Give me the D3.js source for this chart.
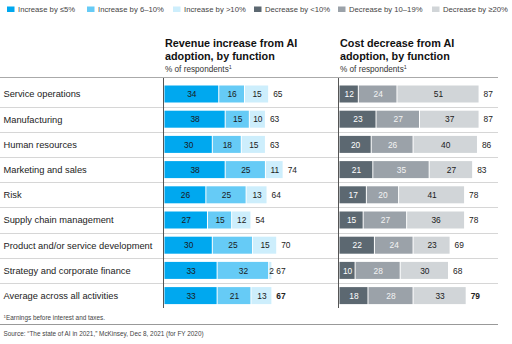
<!DOCTYPE html>
<html>
<head>
<meta charset="utf-8">
<script src="https://cdn.jsdelivr.net/npm/d3@7"></script>
<style>
  body { margin: 0; background: #fff; }
  svg { font-family: "Liberation Sans", Arial, sans-serif; }
</style>
</head>
<body>
<svg id="chart" width="512" height="344"></svg>
<script>
// row names, top to bottom
var functions = [
    "Service operations",
    "Manufacturing",
    "Human resources",
    "Marketing and sales",
    "Risk",
    "Supply chain management",
    "Product and/or service development",
    "Strategy and corporate finance",
    "Average across all activities"
];

// revenue increase, % of respondents
var incLow = [34, 38, 30, 38, 26, 27, 30, 33, 33];
var incMid = [16, 15, 18, 25, 25, 15, 25, 32, 21];
var incHigh = [15, 10, 15, 11, 13, 12, 15, 2, 13];
var incTotal = [65, 63, 63, 74, 64, 54, 70, 67, 67];

// cost decrease, % of respondents
var decLow = [12, 23, 20, 21, 17, 15, 22, 10, 18];
var decMid = [24, 27, 26, 35, 20, 27, 24, 28, 28];
var decHigh = [51, 37, 40, 27, 41, 36, 23, 30, 33];
var decTotal = [87, 87, 86, 83, 78, 78, 69, 68, 79];

var legendLabels = [
    "Increase by \u22645%", "Increase by 6\u201310%", "Increase by >10%",
    "Decrease by <10%", "Decrease by 10\u201319%", "Decrease by \u226520%"
];
var colors = ["#00a8ef", "#66cbf6", "#cdeefc", "#5c6871", "#9ba2a9", "#d1d5d8"];
var textColors = ["#1a1a1a", "#1a1a1a", "#1a1a1a", "#ffffff", "#f4f4f4", "#1a1a1a"];

var svg = d3.select("#chart");

var yScale = d3.scaleBand()
    .domain(functions)
    .range([81.4, 308.2]);

var barH = 17;

// both panels share the same % scale
var xLeft = d3.scaleLinear().domain([0, 100]).range([164.5, 325.5]);
var xRight = d3.scaleLinear().domain([0, 100]).range([339.5, 500.5]);

// legend
var legend = svg.append("g");
var legendX = [7, 87, 173, 254, 338, 432];
legendLabels.forEach(function(t, i) {
    legend.append("rect")
        .attr("x", legendX[i]).attr("y", 6.5)
        .attr("width", 7.5).attr("height", 5.5)
        .attr("fill", colors[i]);
    legend.append("text")
        .attr("x", legendX[i] + 11).attr("y", 11.8)
        .attr("font-size", "7.7px").attr("fill", "#444")
        .text(t);
});

// panel headings
var drawHeading = function(x, line1, line2) {
    var g = svg.append("g").attr("transform", "translate(" + x + ",0)");
    g.append("text").attr("y", 46.5).attr("font-size", "10.8px")
        .attr("font-weight", "bold").attr("fill", "#111").text(line1);
    g.append("text").attr("y", 60).attr("font-size", "10.8px")
        .attr("font-weight", "bold").attr("fill", "#111").text(line2);
    var sub = g.append("text").attr("y", 72).attr("font-size", "8.2px").attr("fill", "#333");
    sub.append("tspan").text("% of respondents");
    sub.append("tspan").attr("dy", -3).attr("font-size", "5.4px").text("1");
};
drawHeading(165, "Revenue increase from AI", "adoption, by function");
drawHeading(340, "Cost decrease from AI", "adoption, by function");

// rules: top line and row separators
svg.append("line")
    .attr("x1", 0).attr("x2", 498).attr("y1", 77.5).attr("y2", 77.5)
    .attr("stroke", "#aaa").attr("stroke-width", 1);

svg.append("g")
    .selectAll("line")
    .data(functions.slice(1))
    .enter()
    .append("line")
    .attr("x1", 0).attr("x2", 498)
    .attr("y1", function(d) { return Math.round(yScale(d)) + 0.5; })
    .attr("y2", function(d) { return Math.round(yScale(d)) + 0.5; })
    .attr("stroke", "#d6d6d6").attr("stroke-width", 1);

// row labels
svg.append("g")
    .selectAll("text")
    .data(functions)
    .enter()
    .append("text")
    .attr("x", 3.5)
    .attr("y", function(d) { return yScale(d) + yScale.bandwidth() / 2 + 3.3; })
    .attr("font-size", "9.3px").attr("fill", "#222")
    .text(function(d) { return d; });

// stacked bars for one panel
var drawPanel = function(xScale, series, totals, colorOffset) {
    var rows = functions.map(function(name, i) {
        return { name: name, a: series[0][i], b: series[1][i], c: series[2][i], total: totals[i] };
    });
    var stacked = d3.stack().keys(["a", "b", "c"])(rows);

    var g = svg.append("g");
    stacked.forEach(function(layer, k) {
        var seg = g.append("g").selectAll("g")
            .data(layer)
            .enter()
            .append("g");

        seg.append("rect")
            .attr("x", function(d) { return xScale(d[0]); })
            .attr("width", function(d) { return Math.max(0, xScale(d[1]) - xScale(d[0]) - 1); })
            .attr("y", function(d) { return yScale(d.data.name) + (yScale.bandwidth() - barH) / 2; })
            .attr("height", barH)
            .attr("fill", colors[colorOffset + k]);

        seg.append("text")
            .attr("x", function(d) {
                var w = xScale(d[1]) - xScale(d[0]);
                return w < 8 ? xScale(d[0]) : xScale(d[0]) + w / 2;
            })
            .attr("y", function(d) { return yScale(d.data.name) + yScale.bandwidth() / 2 + 3.2; })
            .attr("text-anchor", function(d) {
                return xScale(d[1]) - xScale(d[0]) < 8 ? "start" : "middle";
            })
            .attr("font-size", "8.4px")
            .attr("fill", textColors[colorOffset + k])
            .text(function(d) { return d[1] - d[0]; });
    });

    // totals after each bar
    g.append("g").selectAll("text")
        .data(rows)
        .enter()
        .append("text")
        .attr("x", function(d) { return xScale(d.a + d.b + d.c) + 4; })
        .attr("y", function(d) { return yScale(d.name) + yScale.bandwidth() / 2 + 3.2; })
        .attr("font-size", "8.4px")
        .attr("font-weight", function(d, i) { return i === rows.length - 1 ? "bold" : "normal"; })
        .attr("fill", "#222")
        .text(function(d) { return d.total; });

    // baseline
    g.append("line")
        .attr("x1", xScale(0) - 1).attr("x2", xScale(0) - 1)
        .attr("y1", 78).attr("y2", 308)
        .attr("stroke", "#555").attr("stroke-width", 1);
};

drawPanel(xLeft, [incLow, incMid, incHigh], incTotal, 0);
drawPanel(xRight, [decLow, decMid, decHigh], decTotal, 3);

// footnotes
var foot = svg.append("text").attr("x", 3.5).attr("y", 320)
    .attr("font-size", "6.4px").attr("fill", "#444");
foot.append("tspan").attr("font-size", "4.4px").attr("dy", -2).text("1");
foot.append("tspan").attr("dy", 2).text("Earnings before interest and taxes.");

svg.append("line")
    .attr("x1", 0).attr("x2", 498).attr("y1", 324.5).attr("y2", 324.5)
    .attr("stroke", "#999").attr("stroke-width", 1);

svg.append("text").attr("x", 3.5).attr("y", 336)
    .attr("font-size", "6.4px").attr("fill", "#444")
    .text("Source: \u201cThe state of AI in 2021,\u201d McKinsey, Dec 8, 2021 (for FY 2020)");
</script>
</body>
</html>
